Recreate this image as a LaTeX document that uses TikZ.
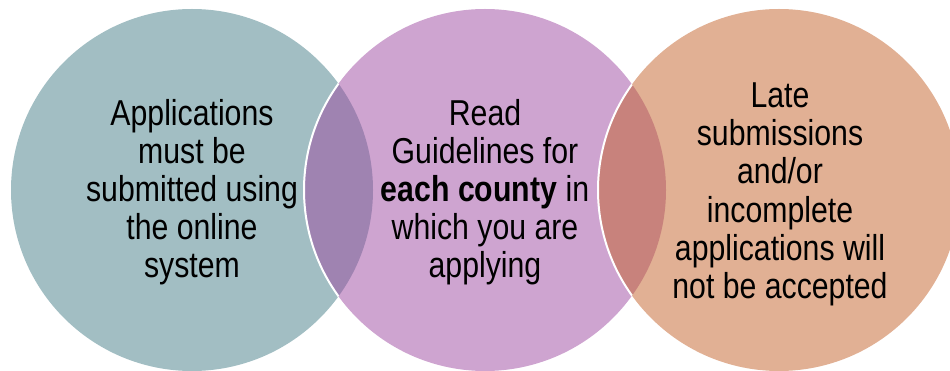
\documentclass[tikz,border=0pt]{standalone}
\usepackage{fontspec}
\newfontfamily\condsans[FakeStretch=0.84]{Liberation Sans}
\definecolor{tealfill}{RGB}{69,125,135}
\definecolor{plumfill}{RGB}{158,73,161}
\definecolor{rustfill}{RGB}{195,97,41}
\tikzset{
  disc/.style={circle, minimum size=362pt, inner sep=0pt, fill opacity=0.5},
  rim/.style={draw=white, line width=2pt},
  label/.style={align=center, anchor=base, inner sep=0pt, text=black,
    font=\condsans\fontsize{36}{38.2}\selectfont}
}
\begin{document}
\begin{tikzpicture}[x=1pt,y=-1pt]
  \useasboundingbox (0,0) rectangle (950,371);
  \clip (0,0) rectangle (950,371);
  % three overlapping discs
  \node[disc, fill=tealfill] (c1) at (192,190) {};
  \node[disc, fill=plumfill] (c2) at (485,190) {};
  \begin{scope}
    \clip (c1.center) circle (181pt);
    \draw[rim] (c2.center) circle (181pt);
  \end{scope}
  \node[disc, fill=rustfill] (c3) at (779,190) {};
  \begin{scope}
    \clip (c2.center) circle (181pt);
    \draw[rim] (c3.center) circle (181pt);
  \end{scope}
  % texts (anchored at the baseline of the last line)
  \node[label] (t1) at (192,278) {Applications\\must be\\submitted using\\the online\\system};
  \node[label] (t2) at (485,278) {Read\\Guidelines for\\\textbf{each county} in\\which you are\\applying};
  \node[label] (t3) at (780,298.5) {Late\\submissions\\and/or\\incomplete\\applications will\\not be accepted};
\end{tikzpicture}
\end{document}
